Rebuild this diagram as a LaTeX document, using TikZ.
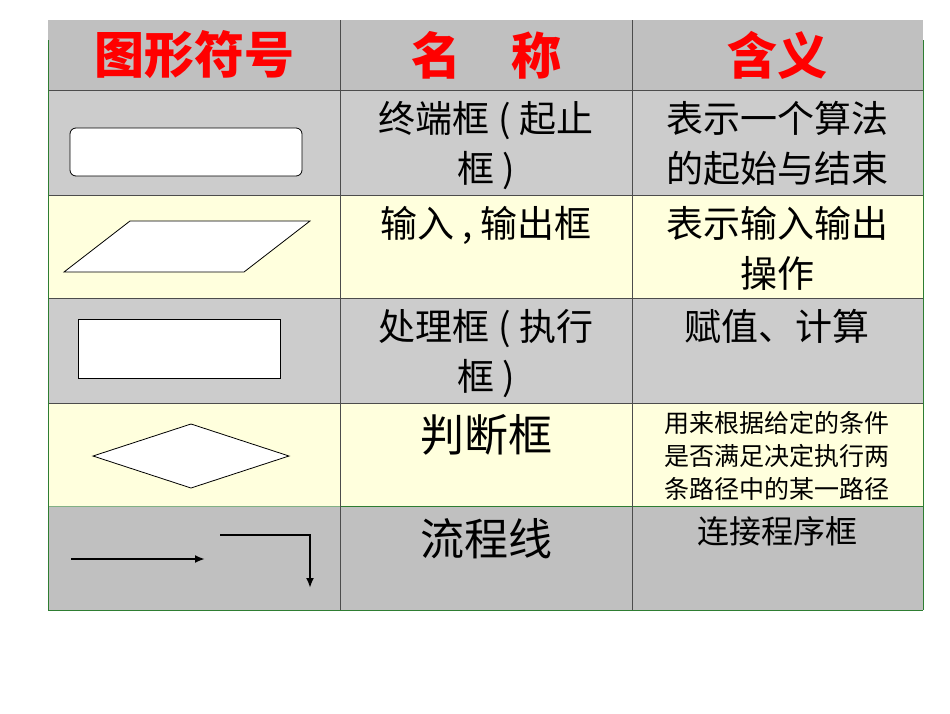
\documentclass[tikz,border=0pt]{standalone}
\usepackage{fontspec}
\setmainfont{Noto Sans CJK SC}
\usetikzlibrary{arrows.meta}
\begin{document}
\begin{tikzpicture}[x=1pt,y=-1pt,
 cell/.style={draw=black!70,line width=0.6pt},
 shp/.style={draw=black,fill=white,line width=0.8pt},
 hd/.style={text=red,font=\fontsize{50}{52}\selectfont\bfseries},
 tx/.style={font=\fontsize{37}{50}\selectfont,align=center,anchor=north,inner sep=0pt},
 big/.style={font=\fontsize{44}{50}\selectfont,anchor=north,inner sep=0pt},
 sm/.style={font=\fontsize{25}{33}\selectfont,align=center,anchor=north,inner sep=0pt},
 arr/.style={line width=2.2pt,-{Latex[length=10pt,width=8pt]}}]
\useasboundingbox (0,0) rectangle (950,713);
\definecolor{gA}{HTML}{C0C0C0}\definecolor{gB}{HTML}{CCCCCC}\definecolor{yl}{HTML}{FFFFDD}
\definecolor{gl}{HTML}{2E7D32}
\fill[gA] (48,20) rectangle (923,90);
\fill[gB] (48,90) rectangle (923,195);
\fill[yl] (48,195) rectangle (923,298);
\fill[gB] (48,298) rectangle (923,403);
\fill[yl] (48,403) rectangle (923,506);
\fill[gA] (48,506) rectangle (923,610);
\foreach \y in {90,195,298,403} \draw[cell] (48,\y) -- (923,\y);
\draw[gl,line width=1pt] (340,506) -- (923,506);
\draw[gl!60,line width=0.8pt] (48,506) -- (340,506);
\draw[gl,line width=1pt] (48,610) -- (923,610);
\draw[gl,line width=0.8pt] (48,40) -- (48,610);
\draw[gl,line width=0.8pt] (923,40) -- (923,610);
\draw[cell] (340,20) -- (340,610);
\draw[cell] (632,20) -- (632,610);
\node[hd] (h1) at (194,55) {图形符号};
\node[hd] (h2) at (486,55) {名\quad 称};
\node[hd] (h3) at (777,55) {含义};
\draw[shp,rounded corners=6pt] (70,128) rectangle (302,176);
\draw[shp] (64,272) -- (130,221) -- (310,221) -- (244,272) -- cycle;
\draw[shp] (78,319) rectangle (280,378);
\draw[shp] (93,456) -- (191,424) -- (289,456) -- (191,488) -- cycle;
\coordinate (a1) at (71,559); \coordinate (a2) at (205,559);
\draw[arr] (a1) -- (a2);
\coordinate (b1) at (220,535); \coordinate (b2) at (310,535); \coordinate (b3) at (310,588);
\draw[arr] (b1) -- (b2) -- (b3);
\node[tx] (n1) at (486,101) {终端框 ( 起止\\框 )};
\node[tx] (n2) at (486,206) {输入 , 输出框};
\node[tx] (n3) at (486,309) {处理框 ( 执行\\框 )};
\node[big] (n4) at (486,414) {判断框};
\node[big] (n5) at (486,518) {流程线};
\node[tx] (m1) at (777,101) {表示一个算法\\的起始与结束};
\node[tx] (m2) at (777,206) {表示输入输出\\操作};
\node[tx] (m3) at (777,309) {赋值、计算};
\node[sm] (m4) at (777,411) {用来根据给定的条件\\是否满足决定执行两\\条路径中的某一路径};
\node[font=\fontsize{32}{34}\selectfont,anchor=north,inner sep=0pt] (m5) at (777,516) {连接程序框};
\end{tikzpicture}
\end{document}
